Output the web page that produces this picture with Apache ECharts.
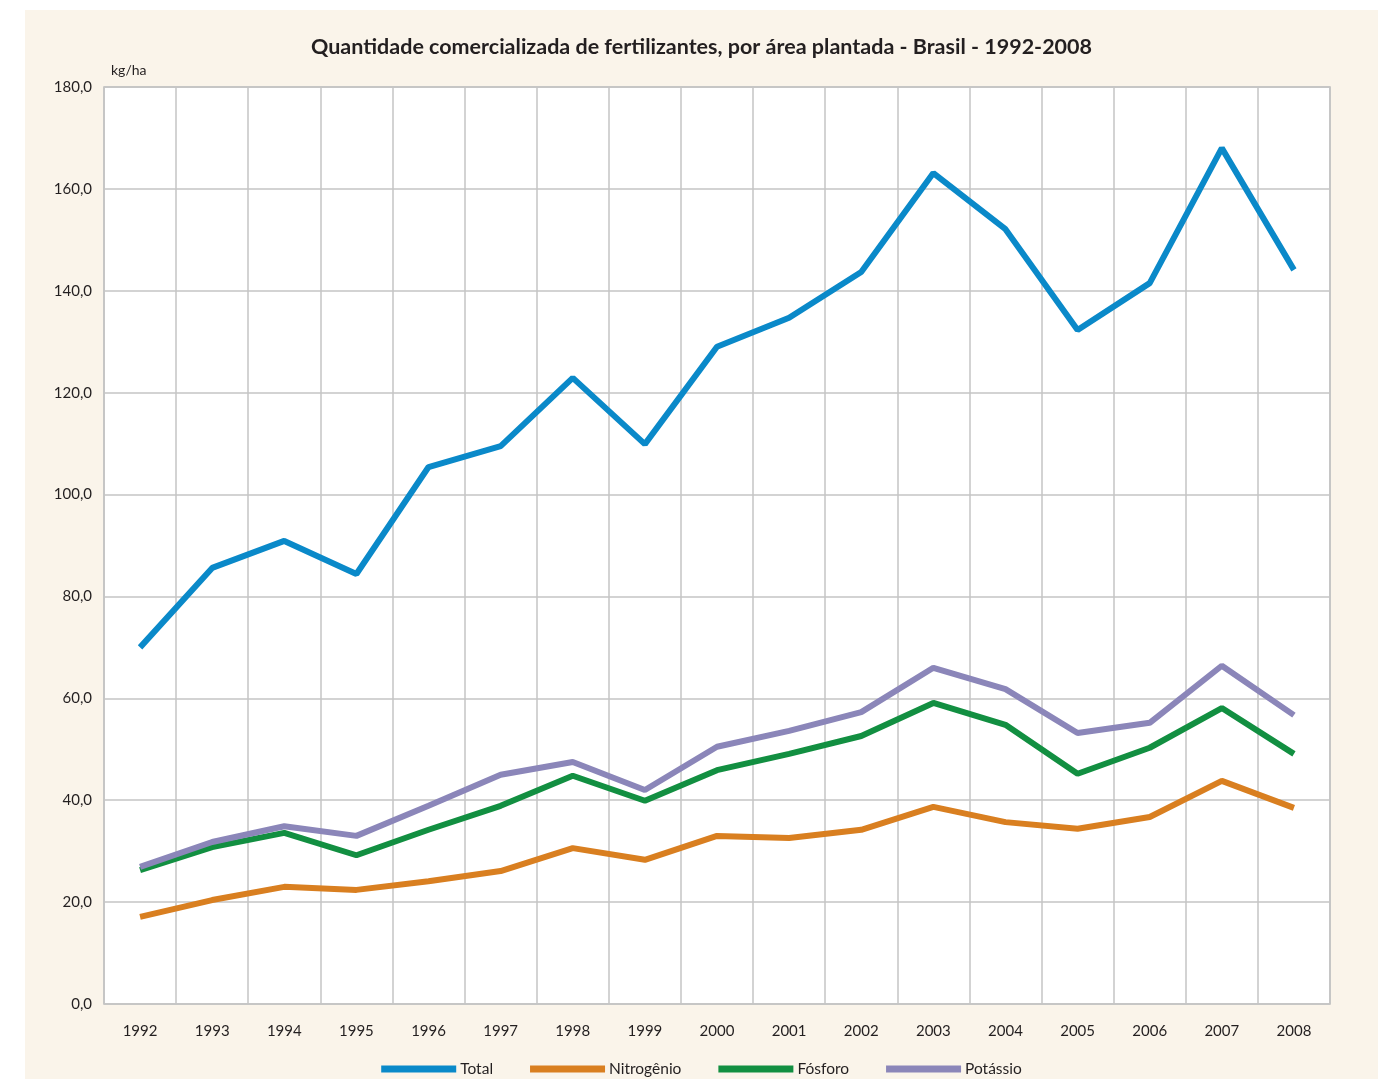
<!DOCTYPE html>
<html>
<head>
<meta charset="utf-8">
<script src="https://cdn.jsdelivr.net/npm/echarts@6/dist/echarts.min.js"></script>
<style>
  html, body { margin: 0; padding: 0; background: #fff; }
  #myChart { position: absolute; left: 25px; top: 10px; width: 1353px; height: 1069px; background: #faf4ea; }
</style>
</head>
<body>
<div id="myChart"></div>
<script>
// dados (kg/ha)
var anos = ['1992', '1993', '1994', '1995', '1996', '1997', '1998', '1999', '2000',
  '2001', '2002', '2003', '2004', '2005', '2006', '2007', '2008']
var total = [70.0, 85.6, 90.9, 84.4, 105.4, 109.5, 122.9, 109.9, 129.0, 134.7, 143.7, 163.1, 152.1, 132.3, 141.5, 168.0, 144.1]
var nitrogenio = [17.1, 20.4, 23.0, 22.4, 24.1, 26.1, 30.6, 28.3, 33.0, 32.6, 34.2, 38.7, 35.7, 34.4, 36.7, 43.8, 38.5]
var fosforo = [26.3, 30.8, 33.6, 29.2, 34.2, 38.9, 44.8, 39.9, 45.9, 49.1, 52.6, 59.1, 54.8, 45.2, 50.3, 58.1, 49.1]
var potassio = [26.9, 31.8, 34.9, 33.0, 38.9, 45.0, 47.5, 42.0, 50.5, 53.6, 57.3, 66.0, 61.8, 53.2, 55.2, 66.4, 56.7]

var fonte = 'Lato, "Open Sans", sans-serif'
var textColor = '#231f20'

function linha(nome, dados, cor) {
  return {
    name: nome,
    type: 'line',
    data: dados,
    symbol: 'none',
    smooth: false,
    lineStyle: { color: cor, width: 6 },
    itemStyle: { color: cor },
  }
}

var myChart = echarts.init(document.getElementById('myChart'))
var option = {
  title: {
    text: 'Quantidade comercializada de fertilizantes, por área plantada - Brasil - 1992-2008',
    left: 'center',
    top: 21,
    textStyle: { fontFamily: fonte, fontSize: 21.5, fontWeight: 'bold', color: textColor },
  },
  graphic: [
    {
      type: 'text',
      left: 86,
      top: 53,
      style: { text: 'kg/ha', fontFamily: fonte, fontSize: 14, fill: textColor },
    },
  ],
  grid: {
    left: 79,
    right: 48,
    top: 77,
    bottom: 75,
    show: true,
    backgroundColor: '#ffffff',
    borderColor: '#bcbcbc',
    borderWidth: 1.5,
  },
  legend: {
    top: 1046,
    left: 'center',
    icon: 'rect',
    itemWidth: 75,
    itemHeight: 7,
    itemGap: 37,
    textStyle: { fontFamily: fonte, fontSize: 15.5, color: textColor, padding: [0, 0, 0, -1] },
    data: ['Total', 'Nitrogênio', 'Fósforo', 'Potássio'],
  },
  xAxis: {
    type: 'category',
    data: anos,
    boundaryGap: true,
    axisLine: { show: false },
    axisTick: { show: false },
    axisLabel: { fontFamily: fonte, fontSize: 15, color: textColor, margin: 20, interval: 0 },
    splitLine: { show: true, interval: 0, lineStyle: { color: '#c4c4c4', width: 1.5 } },
  },
  yAxis: {
    type: 'value',
    min: 0,
    max: 180,
    interval: 20,
    axisLine: { show: false },
    axisTick: { show: false },
    axisLabel: {
      fontFamily: fonte,
      fontSize: 15,
      color: textColor,
      margin: 12,
      formatter: function (v) { return v.toFixed(1).replace('.', ',') },
    },
    splitLine: { show: true, lineStyle: { color: '#c4c4c4', width: 1.5 } },
  },
  series: [
    linha('Total', total, '#0a89c9'),
    linha('Nitrogênio', nitrogenio, '#d97f20'),
    linha('Fósforo', fosforo, '#128f41'),
    linha('Potássio', potassio, '#8b86b9'),
  ],
}
myChart.setOption(option, true)
</script>
</body>
</html>
